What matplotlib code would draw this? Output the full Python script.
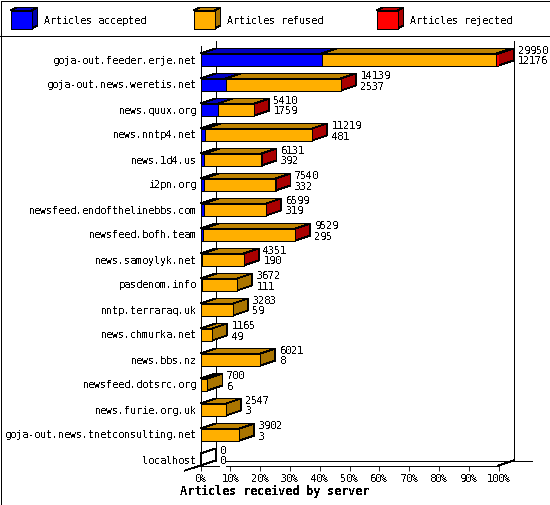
import matplotlib
matplotlib.use("Agg")
import matplotlib.pyplot as plt
from matplotlib.patches import Polygon, Rectangle
from matplotlib.transforms import IdentityTransform

servers = ["goja-out.feeder.erje.net", "goja-out.news.weretis.net", "news.quux.org",
           "news.nntp4.net", "news.1d4.us", "i2pn.org", "newsfeed.endofthelinebbs.com",
           "newsfeed.bofh.team", "news.samoylyk.net", "pasdenom.info", "nntp.terraraq.uk",
           "news.chmurka.net", "news.bbs.nz", "newsfeed.dotsrc.org", "news.furie.org.uk",
           "goja-out.news.tnetconsulting.net", "localhost"]
received = [29950, 14139, 5410, 11219, 6131, 7540, 6599, 9529, 4351, 3672, 3283, 1165,
            6021, 700, 2547, 3902, 0]
accepted = [12176, 2537, 1759, 481, 392, 332, 319, 295, 190, 111, 59, 49, 8, 6, 3, 3, 0]
rejected = [250, 60, 15, 30, 20, 25, 15, 25, 10, 0, 0, 0, 0, 0, 0, 0, 0]
refused = [17524, 11542, 3636, 10708, 5719, 7183, 6265, 9209, 4151, 3561, 3224, 1116,
           6013, 694, 2544, 3899, 0]
percent_ticks = [0, 10, 20, 30, 40, 50, 60, 70, 80, 90, 100]
legend_labels = ["Articles accepted", "Articles refused", "Articles rejected"]

FRONT = ["#0000FF", "#FFAF00", "#FF0000"]
TOP = ["#0000BF", "#BF8300", "#BF0000"]
SIDE = ["#0000AA", "#AA7500", "#AA0000"]
W, H, DX, DY = 550, 505, 15, 5
MONO = "DejaVu Sans Mono"
LW = 0.6

plt.rcParams.update({"text.antialiased": False, "patch.antialiased": False,
                     "lines.antialiased": False, "font.family": MONO,
                     "text.hinting": "force_autohint", "text.hinting_factor": 1})
TXT = 7.2

fig = plt.figure(figsize=(W / 100, H / 100), dpi=100, facecolor="white")

# page furniture, laid out in pixels
frame = fig.add_axes([0, 0, 1, 1], zorder=0)
frame.set_xlim(0, W)
frame.set_ylim(H, 0)
frame.axis("off")
frame.add_patch(Rectangle((0.5, 0.5), W - 1, H - 1, fc="none", ec="black", lw=LW, clip_on=False))
frame.plot([0, W], [35.5, 35.5], color="black", lw=LW)
frame.plot([215.5, 215.5], [40.5, 460.5], color="black", lw=LW)
frame.plot([513.5, 513.5], [40.5, 460.5], color="black", lw=LW)
frame.plot([226, 532], [460.5, 460.5], color="black", lw=LW)
frame.plot([185, 200.5], [470.5, 465.5], color="black", lw=LW)
frame.plot([498.5, 513.5], [465.5, 460.5], color="black", lw=LW)

for x0, label, f, t, s in zip([10.5, 193.5, 376.5], legend_labels, FRONT, TOP, SIDE):
    x1, y0, y1, dx, dy = x0 + 21, 10.5, 28.5, 6, 3
    frame.add_patch(Polygon([(x0, y0), (x0 + dx, y0 - dy), (x1 + dx, y0 - dy), (x1, y0)], fc=t, ec="black", lw=LW))
    frame.add_patch(Polygon([(x1, y0), (x1 + dx, y0 - dy), (x1 + dx, y1 - dy), (x1, y1)], fc=s, ec="black", lw=LW))
    frame.add_patch(Rectangle((x0, y0), 21, 18, fc=f, ec="black", lw=LW))
    frame.text(x0 + 33.5, 21, label, fontsize=TXT, va="center", ha="left")

# chart axes: 0 -> 100 % of the largest server
ax = fig.add_axes([200.5 / W, (H - 465.5) / H, 298 / W, 420 / H], zorder=1)
ax.patch.set_visible(False)
ax.set_xlim(0, max(received))
ax.set_ylim(16.24, -0.56)
for s in ("top", "right"):
    ax.spines[s].set_visible(False)
for s in ("left", "bottom"):
    ax.spines[s].set_linewidth(LW)
    ax.spines[s].set_antialiased(False)

BAR_H = 12 / 25


def px(x, y):
    return ax.transData.transform((x, y))


def depth_face(p, q):
    """Parallelogram receding from edge p-q into the chart's depth."""
    return [tuple(p), (p[0] + DX, p[1] + DY), (q[0] + DX, q[1] + DY), tuple(q)]


for i, (acc, ref, rej) in enumerate(zip(accepted, refused, rejected)):
    left = 0
    last = 0
    for k, val in enumerate((acc, ref, rej)):
        if val > 0:
            last = k
            a = px(left, i - BAR_H / 2)
            b = px(left + val, i - BAR_H / 2)
            ax.add_patch(Polygon(depth_face(a, b), fc=TOP[k], ec="black", lw=LW,
                                 transform=IdentityTransform(), clip_on=False, zorder=3))
            ax.barh(i, val, left=left, height=BAR_H, color=FRONT[k], edgecolor="black",
                    linewidth=LW, zorder=4)
        left += val
    c = px(left, i - BAR_H / 2)
    d = px(left, i + BAR_H / 2)
    ax.add_patch(Polygon(depth_face(c, d), fc=SIDE[last] if left > 0 else "none", ec="black", lw=LW,
                         transform=IdentityTransform(), clip_on=False, zorder=3))
    for val, off in ((received[i], 8.5), (accepted[i], -2)):
        ax.annotate(str(val), xy=(left, i), xytext=(19.5 * 0.72, off * 0.72),
                    textcoords="offset points", fontsize=TXT, va="center", ha="left",
                    annotation_clip=False, zorder=5,
                    bbox=dict(fc="white", ec="none", pad=0))

ax.set_xlim(0, max(received))
ax.set_ylim(16.24, -0.56)
ax.set_yticks(range(len(servers)))
ax.set_yticklabels(servers, fontsize=TXT)
ax.tick_params(axis="y", length=0, pad=2.9)
ax.set_xticks([p / 100 * max(received) for p in percent_ticks])
ax.set_xticklabels([f"{p}%" for p in percent_ticks], fontsize=TXT)
ax.tick_params(axis="x", length=3.6, width=LW, pad=2.2)
ax.set_xlabel("Articles received by server", fontsize=8.4, fontweight="bold",
              x=(274 - 200.5) / 298, labelpad=1.0)

fig.savefig("out.png", dpi=100)
